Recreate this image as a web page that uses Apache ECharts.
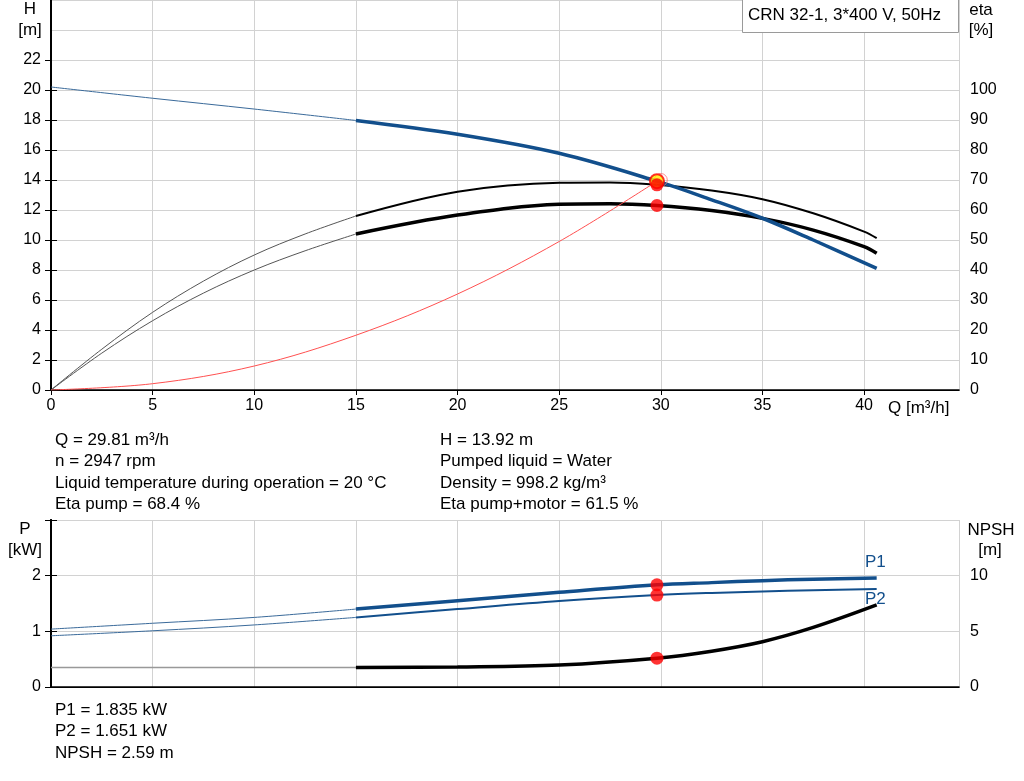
<!DOCTYPE html>
<html><head><meta charset="utf-8">
<script src="https://cdn.jsdelivr.net/npm/echarts@6/dist/echarts.min.js"></script>
<style>html,body{margin:0;padding:0;background:#fff}#c{width:1024px;height:781px}</style>
</head><body><div id="c"></div>
<script>
// ---- data ----
const qMax = 44.67;
const xTicks = [0, 5, 10, 15, 20, 25, 30, 35, 40];
const hLabels = [0, 2, 4, 6, 8, 10, 12, 14, 16, 18, 20, 22];
const etaLabels = [0, 10, 20, 30, 40, 50, 60, 70, 80, 90, 100];

const headThin  = [[0,20.2],[5,19.45],[10,18.73],[15,17.97]];
const headThick = [[15,17.97],[20,17.05],[25,15.78],[29.81,13.92],[32.5,12.68],[35,11.45],[37.5,10.0],[40.62,8.11]];
const etaPumpThin  = [[0,0],[2.5,13.6],[5,25.9],[7.5,36.3],[10,45],[12.5,52.0],[15,58]];
const etaPumpThick = [[15,58],[20,66.1],[25,69.1],[27.5,69.2],[29.81,68.4],[32.5,66.5],[35,63.6],[37.5,58.9],[40,52.8],[40.62,50.6]];
const etaTotThin  = [[0,0],[2.5,12.3],[5,23.1],[7.5,32.3],[10,40],[12.5,46.4],[15,52]];
const etaTotThick = [[15,52],[20,58.3],[25,61.9],[27.5,62.1],[29.81,61.5],[32.5,59.8],[35,57.2],[37.5,53.3],[40,47.8],[40.62,45.6]];
const systemCurve = [[0,0],[5,0.42],[10,1.6],[15,3.65],[20,6.4],[25,9.9],[29.81,13.92]];

const p1Thin  = [[0,1.04],[5,1.145],[10,1.25],[15,1.40]];
const p1Thick = [[15,1.40],[20,1.55],[25,1.70],[29.81,1.835],[32.5,1.875],[35,1.91],[37.5,1.937],[40.62,1.96]];
const p2Thin  = [[0,0.92],[5,1.01],[10,1.115],[15,1.25]];
const p2Thick = [[15,1.25],[20,1.40],[25,1.545],[29.81,1.651],[32.5,1.69],[35,1.715],[37.5,1.74],[40.62,1.76]];
const npshThin  = [[0,1.75],[15,1.75]];
const npshThick = [[15,1.75],[20,1.80],[25,1.98],[29.81,2.59],[32.5,3.22],[35,4.07],[37.5,5.35],[40.62,7.37]];

const requestedPoint = [[30, 14]];
const dutyHead = [[29.81, 13.92]];
const dutyEtaPump = [[29.81, 68.4]];
const dutyEtaTot = [[29.81, 61.5]];
const dutyP1 = [[29.81, 1.835]];
const dutyP2 = [[29.81, 1.651]];
const dutyNpsh = [[29.81, 2.59]];

const infoLeft = ['Q = 29.81 m³/h', 'n = 2947 rpm', 'Liquid temperature during operation = 20 °C', 'Eta pump = 68.4 %'];
const infoRight = ['H = 13.92 m', 'Pumped liquid = Water', 'Density = 998.2 kg/m³', 'Eta pump+motor = 61.5 %'];
const infoBottom = ['P1 = 1.835 kW', 'P2 = 1.651 kW', 'NPSH = 2.59 m'];
const titleText = 'CRN 32-1, 3*400 V, 50Hz';

// ---- styling ----
const FONT = "'Liberation Sans', Arial, sans-serif";
const FS = 16;
const TFS = 17;
const BLUE = '#124f8c';
const GRIDC = '#d2d2d2';
const tfont = TFS + 'px ' + FONT;

function lineS(data, x, y, color, width, z) {
  return { type: 'line', data, xAxisIndex: x, yAxisIndex: y, showSymbol: false, smooth: 0.35,
    lineStyle: { color, width }, z: z || 2, silent: true };
}
function dot(data, x, y, opts) {
  return Object.assign({ type: 'scatter', data, xAxisIndex: x, yAxisIndex: y, symbol: 'circle',
    symbolSize: 13, itemStyle: { color: '#ff0000' }, z: 10, silent: true }, opts || {});
}
function txt(text, x, y, align, color) {
  return { type: 'text', x, y, silent: true, style: { text, font: tfont, fill: color || '#000',
    textAlign: align || 'left', textVerticalAlign: 'middle' } };
}

const graphics = [];
graphics.push({ type: 'rect', shape: { x: 742.5, y: -1, width: 216, height: 33.5 },
  style: { fill: '#fff', stroke: '#9a9a9a', lineWidth: 1 }, z: 50 });
graphics.push(Object.assign(txt(titleText, 748, 15), { z: 51 }));
graphics.push(txt('H', 30, 9, 'center'));
graphics.push(txt('[m]', 30, 30, 'center'));
graphics.push(txt('eta', 981, 10, 'center'));
graphics.push(txt('[%]', 981, 30, 'center'));
graphics.push(txt('Q [m³/h]', 888, 408, 'left'));
graphics.push(txt('P', 25, 529, 'center'));
graphics.push(txt('[kW]', 25, 550, 'center'));
graphics.push(txt('NPSH', 991, 530, 'center'));
graphics.push(txt('[m]', 990, 550, 'center'));
graphics.push(txt('P1', 865, 562, 'left', BLUE));
graphics.push(txt('P2', 865, 599, 'left', BLUE));
infoLeft.forEach((t, i) => graphics.push(txt(t, 55, 440 + i * 21.5)));
infoRight.forEach((t, i) => graphics.push(txt(t, 440, 440 + i * 21.5)));
infoBottom.forEach((t, i) => graphics.push(txt(t, 55, 710 + i * 21.5)));

const axisLbl = { color: '#000', fontSize: FS, fontFamily: FONT };
const blackLine = w => ({ show: true, lineStyle: { color: '#000', width: w } });
const fmtX = v => (xTicks.indexOf(Math.round(v * 1000) / 1000) >= 0 ? String(v) : '');

const option = {
  animation: false,
  backgroundColor: '#fff',
  textStyle: { fontFamily: FONT },
  grid: [
    { left: 51, right: 65, top: 0, height: 390, outerBoundsMode: 'none', containLabel: false },
    { left: 51, right: 65, top: 60, height: 330, outerBoundsMode: 'none', containLabel: false },
    { left: 51, right: 65, top: 90, height: 300, outerBoundsMode: 'none', containLabel: false },
    { left: 51, right: 65, top: 520, height: 167, outerBoundsMode: 'none', containLabel: false }
  ],
  xAxis: [
    { type: 'value', gridIndex: 0, position: 'bottom', min: 0, max: qMax, interval: 5,
      axisLine: blackLine(1.5), axisTick: { show: true, length: 5, lineStyle: { color: '#000' } },
      axisLabel: Object.assign({ margin: 8, formatter: fmtX, showMaxLabel: false }, axisLbl),
      splitLine: { show: true, lineStyle: { color: GRIDC, width: 1 } } },
    { type: 'value', gridIndex: 0, position: 'top', min: 0, max: qMax,
      axisLine: blackLine(1), axisTick: { show: false }, axisLabel: { show: false }, splitLine: { show: false } },
    { type: 'value', gridIndex: 1, show: false, min: 0, max: 1 },
    { type: 'value', gridIndex: 2, show: false, min: 0, max: 1 },
    { type: 'value', gridIndex: 3, position: 'bottom', min: 0, max: qMax, interval: 5,
      axisLine: blackLine(1.5), axisTick: { show: false }, axisLabel: { show: false },
      splitLine: { show: true, lineStyle: { color: GRIDC, width: 1 } } },
    { type: 'value', gridIndex: 3, position: 'top', min: 0, max: qMax,
      axisLine: blackLine(1), axisTick: { show: false }, axisLabel: { show: false }, splitLine: { show: false } }
  ],
  yAxis: [
    { type: 'value', gridIndex: 0, position: 'left', min: 0, max: 26, interval: 2,
      axisLine: blackLine(2), axisTick: { show: false }, axisLabel: { show: false },
      splitLine: { show: true, lineStyle: { color: GRIDC, width: 1 } } },
    { type: 'value', gridIndex: 0, position: 'right', min: 0, max: 130, interval: 10,
      axisLine: blackLine(2), axisTick: { show: false }, axisLabel: { show: false }, splitLine: { show: false } },
    { type: 'value', gridIndex: 1, position: 'left', min: hLabels[0], max: hLabels[hLabels.length - 1], interval: 2,
      axisLine: { show: false }, axisTick: { show: true, length: 6, lineStyle: { color: '#000' } },
      axisLabel: Object.assign({ margin: 10 }, axisLbl), splitLine: { show: false } },
    { type: 'value', gridIndex: 2, position: 'right', min: etaLabels[0], max: etaLabels[etaLabels.length - 1], interval: 10,
      axisLine: { show: false }, axisTick: { show: true, length: 6, lineStyle: { color: '#000' } },
      axisLabel: Object.assign({ margin: 11 }, axisLbl), splitLine: { show: false } },
    { type: 'value', gridIndex: 3, position: 'left', min: 0, max: 3, interval: 1,
      axisLine: blackLine(2), axisTick: { show: true, length: 6, lineStyle: { color: '#000' } },
      axisLabel: Object.assign({ margin: 10, formatter: v => (v > 2 ? '' : String(v)) }, axisLbl),
      splitLine: { show: true, lineStyle: { color: GRIDC, width: 1 } } },
    { type: 'value', gridIndex: 3, position: 'right', min: 0, max: 15, interval: 5,
      axisLine: blackLine(2), axisTick: { show: true, length: 6, lineStyle: { color: '#000' } },
      axisLabel: Object.assign({ margin: 11, formatter: v => (v > 10 ? '' : String(v)) }, axisLbl),
      splitLine: { show: false } }
  ],
  series: [
    lineS(systemCurve, 0, 0, '#ff5050', 1, 3),
    lineS(etaPumpThin, 0, 1, '#555', 1),
    lineS(etaTotThin, 0, 1, '#555', 1),
    lineS(etaPumpThick, 0, 1, '#000', 2),
    lineS(etaTotThick, 0, 1, '#000', 3.5),
    lineS(headThin, 0, 0, '#3a6a9a', 1, 4),
    lineS(headThick, 0, 0, BLUE, 3.5, 4),
    lineS(npshThin, 4, 5, '#999', 1.5),
    lineS(npshThick, 4, 5, '#000', 3.5),
    lineS(p2Thin, 4, 4, '#3a6a9a', 1),
    lineS(p1Thin, 4, 4, '#3a6a9a', 1),
    lineS(p2Thick, 4, 4, BLUE, 2),
    lineS(p1Thick, 4, 4, BLUE, 3.5),
    dot(requestedPoint, 0, 0, { itemStyle: { color: 'rgba(0,0,0,0)', borderColor: '#ff7070', borderWidth: 1 }, symbolSize: 13, z: 8 }),
    dot(dutyHead, 0, 0, { itemStyle: { color: '#ffee00', borderColor: '#ff0000', borderWidth: 2 }, symbolSize: 14, z: 9 }),
    dot(dutyEtaPump, 0, 1),
    dot(dutyEtaTot, 0, 1),
    dot(dutyP1, 4, 4),
    dot(dutyP2, 4, 4),
    dot(dutyNpsh, 4, 5)
  ],
  graphic: { elements: graphics }
};

const chart = echarts.init(document.getElementById('c'), null, { renderer: 'canvas' });
chart.setOption(option);
</script>
</body></html>
